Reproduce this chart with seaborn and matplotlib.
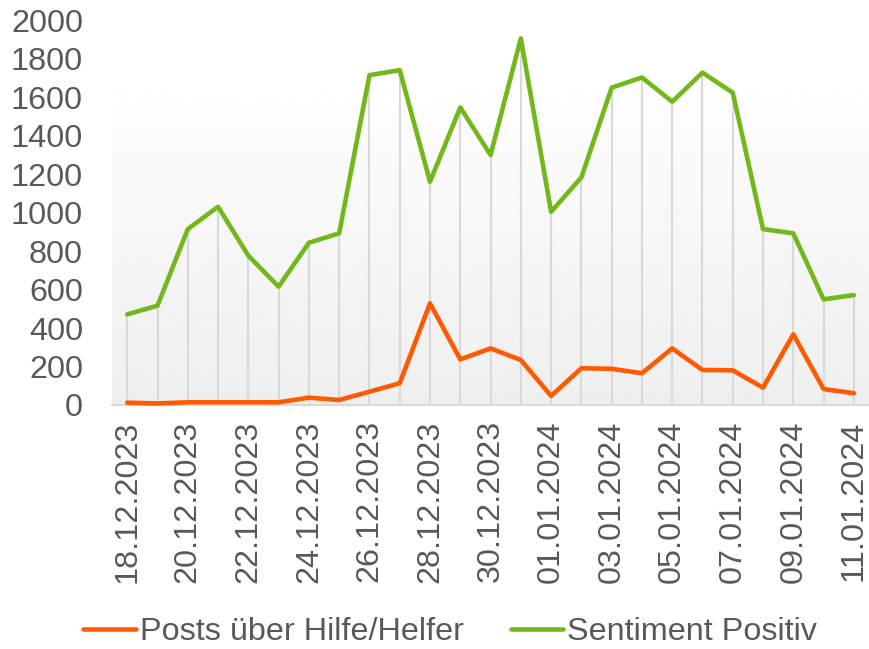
import numpy as np
import pandas as pd
import matplotlib
matplotlib.use("Agg")
import matplotlib.pyplot as plt
import seaborn as sns

# daily values, 18.12.2023 - 11.01.2024
dates = pd.date_range("2023-12-18", "2024-01-11", freq="D")
labels = [d.strftime("%d.%m.%Y") for d in dates]

posts_hilfe = [12, 8, 14, 14, 14, 14, 38, 26, 69, 113, 528, 237, 294, 234, 47,
               191, 188, 165, 294, 182, 180, 90, 367, 83, 61]
sentiment_pos = [471, 516, 914, 1030, 776, 615, 843, 892, 1714, 1740, 1160, 1546, 1299, 1905, 1004,
                 1183, 1649, 1702, 1576, 1727, 1623, 914, 892, 549, 571]

series_names = ["Posts über Hilfe/Helfer", "Sentiment Positiv"]
colors = ["#ff5a00", "#72b81a"]

df = pd.DataFrame({
    "idx": list(range(len(labels))) * 2,
    "value": posts_hilfe + sentiment_pos,
    "series": [series_names[0]] * len(labels) + [series_names[1]] * len(labels),
})

sns.set_style("white")
plt.rcParams["font.family"] = ["Liberation Sans", "DejaVu Sans"]
txt = "#595959"
grid = "#d9d9d9"
fs = 23.3

fig = plt.figure(figsize=(8.69, 6.49), dpi=100)
ax = fig.add_axes([0.129, 0.376, 0.871, 0.593])

n = len(labels)
ax.set_xlim(-0.5, n - 0.5)
ax.set_ylim(0, 2000)

# plot area gradient (white at top, light grey at bottom)
grad = np.linspace(0.935, 1.0, 256).reshape(-1, 1)
ax.imshow(grad, cmap="gray", vmin=0, vmax=1, aspect="auto", origin="lower",
          extent=(-0.5, n - 0.5, 0, 1756), zorder=0)

# drop lines
top = np.maximum(posts_hilfe, sentiment_pos)
ax.vlines(range(n), 0, top, color=grid, lw=1.5, zorder=1)

sns.lineplot(data=df, x="idx", y="value", hue="series", palette=colors,
             linewidth=3.3, ax=ax, zorder=3, legend=False)
for l in ax.get_lines():
    l.set_solid_capstyle("round")
    l.set_solid_joinstyle("round")
    l.set_clip_on(False)

ax.set_xlim(-0.5, n - 0.5)
ax.set_ylim(0, 2000)
ax.set_xlabel("")
ax.set_ylabel("")

for s in ["left", "right", "top"]:
    ax.spines[s].set_visible(False)
ax.spines["bottom"].set_color(grid)
ax.spines["bottom"].set_linewidth(1.5)

ax.set_yticks(range(0, 2001, 200))
ax.tick_params(axis="y", length=0, pad=21, labelsize=fs, labelcolor=txt)

ax.set_xticks(range(0, n, 2))
ax.set_xticklabels(labels[::2], rotation=90)
ax.set_xticks(np.arange(-0.5, n - 1, 2), minor=True)
ax.tick_params(axis="x", which="major", length=0, pad=11, labelsize=fs, labelcolor=txt)
ax.tick_params(axis="x", which="minor", length=6, width=1.5, color=grid)

handles = [plt.Line2D([], [], color=c, lw=3.3, solid_capstyle="round") for c in colors]
leg = fig.legend(handles, series_names, loc="center", bbox_to_anchor=(0.518, 0.026),
                 ncol=2, frameon=False, fontsize=fs, handlelength=1.62,
                 handletextpad=0.12, columnspacing=1.45, labelcolor=txt)

fig.savefig("out.png", dpi=100)
